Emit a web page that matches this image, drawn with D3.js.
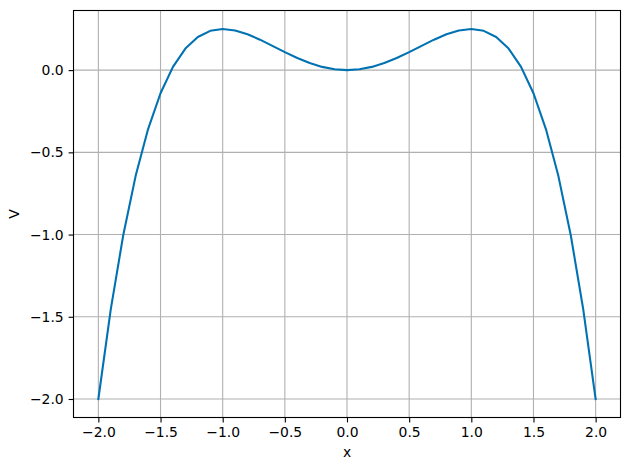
<!DOCTYPE html>
<html><head><meta charset="utf-8">
<script src="https://cdn.jsdelivr.net/npm/d3@7"></script>
<style>
html,body{margin:0;padding:0;background:#fff;}
text{font-family:"DejaVu Sans",sans-serif;}
</style></head>
<body>
<svg id="c" width="630" height="470"></svg>
<script>
const xValues = [-2.0,-1.9,-1.8,-1.7,-1.6,-1.5,-1.4,-1.3,-1.2,-1.1,-1.0,-0.9,-0.8,-0.7,-0.6,-0.5,-0.4,-0.3,-0.2,-0.1,0.0,
  0.1,0.2,0.3,0.4,0.5,0.6,0.7,0.8,0.9,1.0,1.1,1.2,1.3,1.4,1.5,1.6,1.7,1.8,1.9,2.0];
const vValues = [-2.0,-1.453,-1.0044,-0.643,-0.3584,-0.1406,0.0196,0.131,0.2016,0.239,0.25,0.241,0.2176,0.185,0.1476,0.1094,0.0736,0.043,0.0196,0.005,0.0,
  0.005,0.0196,0.043,0.0736,0.1094,0.1476,0.185,0.2176,0.241,0.25,0.239,0.2016,0.131,0.0196,-0.1406,-0.3584,-0.643,-1.0044,-1.453,-2.0];
const xTicks = [-2.0,-1.5,-1.0,-0.5,0.0,0.5,1.0,1.5,2.0];
const yTicks = [-2.0,-1.5,-1.0,-0.5,0.0];
const xLabel = "x", yLabel = "V";

const svg = d3.select("#c");
const L = 73.5, R = 620.5, T = 10.5, B = 417.5;
const x = d3.scaleLinear().domain([-2.2, 2.2]).range([L, R]);
const y = d3.scaleLinear().domain([-2.1125, 0.3625]).range([B, T]);
const fmt = v => d3.format(".1f")(v).replace("-", "\u2212");

// grid
const g = svg.append("g");
g.selectAll(".gx").data(xTicks).join("line")
  .attr("x1", d => x(d)).attr("x2", d => x(d)).attr("y1", T).attr("y2", B)
  .attr("stroke", "#b0b0b0").attr("stroke-width", 1.1);
g.selectAll(".gy").data(yTicks).join("line")
  .attr("y1", d => y(d)).attr("y2", d => y(d)).attr("x1", L).attr("x2", R)
  .attr("stroke", "#b0b0b0").attr("stroke-width", 1.1);

// line
const line = d3.line().x((d, i) => x(xValues[i])).y(d => y(d));
svg.append("path").datum(vValues).attr("d", line)
  .attr("fill", "none").attr("stroke", "#0072b2").attr("stroke-width", 2.08)
  .attr("stroke-linejoin", "round").attr("stroke-linecap", "square");

// axes
const xAxis = d3.axisBottom(x).tickValues(xTicks).tickFormat(fmt).tickSize(4.9).tickPadding(4.9).tickSizeOuter(0);
const yAxis = d3.axisLeft(y).tickValues(yTicks).tickFormat(fmt).tickSize(4.9).tickPadding(4.9).tickSizeOuter(0);
const ax = svg.append("g").attr("transform", `translate(0,${B})`).call(xAxis);
const ay = svg.append("g").attr("transform", `translate(${L},0)`).call(yAxis);
[ax, ay].forEach(a => {
  a.select(".domain").remove();
  a.selectAll("text").attr("font-size", "13.9px").attr("fill", "#000").attr("font-family", "DejaVu Sans");
  a.selectAll("line").attr("stroke", "#000").attr("stroke-width", 1.1);
});

// frame
svg.append("rect").attr("x", L).attr("y", T).attr("width", R - L).attr("height", B - T)
  .attr("fill", "none").attr("stroke", "#000").attr("stroke-width", 1.1);

svg.append("text").attr("x", (L + R) / 2).attr("y", 457).attr("text-anchor", "middle")
  .attr("font-size", "13.9px").text(xLabel);
svg.append("text").attr("transform", `translate(19,${(T + B) / 2}) rotate(-90)`).attr("text-anchor", "middle")
  .attr("font-size", "13.9px").text(yLabel);
</script>
</body></html>
